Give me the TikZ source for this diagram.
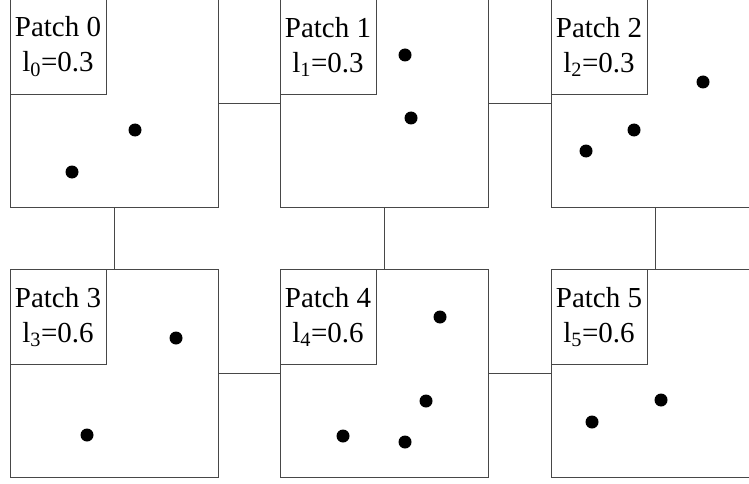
\documentclass[tikz,border=0pt]{standalone}
\usepackage{fontspec}
\setmainfont{Liberation Serif}
\begin{document}
\begin{tikzpicture}[x=1pt,y=-1pt,
  patch/.style={draw=black!72, line width=0.9pt, fill=white, inner sep=0pt,
    minimum width=208pt, minimum height=208pt},
  tag/.style={draw=black!72, line width=0.9pt, inner sep=0pt, anchor=north west,
    minimum width=96pt, minimum height=95pt, align=center,
    font=\fontsize{29}{35}\selectfont},
  link/.style={draw=black!72, line width=0.9pt},
  dot/.style={circle, fill=black, inner sep=0pt, minimum size=13pt}]
\useasboundingbox (0,0) rectangle (749,484);

% the six patches
\node[patch] (p0) at (114,103.5) {};
\node[patch] (p1) at (384,103.5) {};
\node[patch] (p2) at (655,103.5) {};
\node[patch] (p3) at (114,373.5) {};
\node[patch] (p4) at (384,373.5) {};
\node[patch] (p5) at (655,373.5) {};

% neighbour links
\draw[link] (p0) -- (p1);
\draw[link] (p1) -- (p2);
\draw[link] (p3) -- (p4);
\draw[link] (p4) -- (p5);
\draw[link] (p0) -- (p3);
\draw[link] (p1) -- (p4);
\draw[link] (p2) -- (p5);

% patch labels
\node[tag] (t0) at (p0.north west) {Patch 0\\l\textsubscript{0}=0.3};
\node[tag] (t1) at (p1.north west) {Patch 1\\l\textsubscript{1}=0.3};
\node[tag] (t2) at (p2.north west) {Patch 2\\l\textsubscript{2}=0.3};
\node[tag] (t3) at (p3.north west) {Patch 3\\l\textsubscript{3}=0.6};
\node[tag] (t4) at (p4.north west) {Patch 4\\l\textsubscript{4}=0.6};
\node[tag] (t5) at (p5.north west) {Patch 5\\l\textsubscript{5}=0.6};

% sample points
\node[dot] (a1) at (135,130) {};
\node[dot] (a2) at (72,172) {};
\node[dot] (b1) at (405,55) {};
\node[dot] (b2) at (411,118) {};
\node[dot] (c1) at (703,82) {};
\node[dot] (c2) at (634,130) {};
\node[dot] (c3) at (586,151) {};
\node[dot] (d1) at (176,338) {};
\node[dot] (d2) at (87,435) {};
\node[dot] (e1) at (440,317) {};
\node[dot] (e2) at (426,401) {};
\node[dot] (e3) at (343,436) {};
\node[dot] (e4) at (405,442) {};
\node[dot] (f1) at (661,400) {};
\node[dot] (f2) at (592,422) {};
\end{tikzpicture}
\end{document}
